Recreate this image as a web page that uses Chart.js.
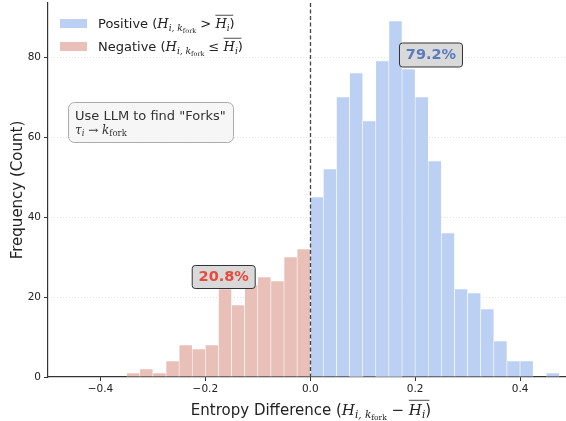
<!DOCTYPE html>
<html>
<head>
<meta charset="utf-8">
<script src="https://cdn.jsdelivr.net/npm/chart.js@4.4.1/dist/chart.umd.min.js"></script>
<style>
  html, body { margin: 0; padding: 0; background: #fff; }
  #wrap { width: 566px; height: 421px; }
</style>
</head>
<body>
<div id="wrap"><canvas id="histChart" width="566" height="421"></canvas></div>
<script>
// histogram bins (width 0.025)
var binWidth = 0.025;
var negStart = -0.35;
var negCounts = [1, 2, 1, 4, 8, 7, 8, 22, 18, 23, 25, 24, 30, 32];
var posStart = 0.0;
var posCounts = [45, 52, 70, 76, 64, 79, 89, 77, 70, 54, 36, 22, 21, 17, 9, 4, 4, 0, 1];
var xTicks = [-0.4, -0.2, 0.0, 0.2, 0.4];
var yTicks = [0, 20, 40, 60, 80];
var negLabel = "20.8%";
var posLabel = "79.2%";

var blueFill = "rgb(188,208,243)";
var redFill = "rgb(232,192,184)";
var sans = "'DejaVu Sans', sans-serif";
var serif = "'DejaVu Serif', 'Liberation Serif', serif";

function toPoints(start, counts) {
  return counts.map(function(c, i) {
    return { x: start + binWidth * (i + 0.5), y: c };
  });
}

// draws a run of text pieces (for the little math bits)
function drawRich(ctx, x, y, parts, align) {
  var total = 0;
  parts.forEach(function(p) { ctx.font = p.f; total += ctx.measureText(p.t).width; });
  var cx = align === "center" ? x - total / 2 : x;
  ctx.textBaseline = "alphabetic";
  ctx.textAlign = "left";
  parts.forEach(function(p) {
    ctx.font = p.f;
    var w = ctx.measureText(p.t).width;
    ctx.fillText(p.t, cx, y + (p.dy || 0));
    if (p.over) {
      ctx.save();
      ctx.lineWidth = 0.8;
      ctx.beginPath();
      ctx.moveTo(cx, y - p.oy);
      ctx.lineTo(cx + w + (p.ow || 0), y - p.oy);
      ctx.stroke();
      ctx.restore();
    }
    cx += w;
  });
  return total;
}

function hik(s) {
  return [
    { t: "H", f: "italic " + s + "px " + serif },
    { t: "i,", f: "italic " + (s * 0.7) + "px " + serif, dy: 3 },
    { t: " k", f: "italic " + (s * 0.7) + "px " + serif, dy: 3 },
    { t: "fork", f: (s * 0.5) + "px " + serif, dy: 5 }
  ];
}
function hbar(s) {
  return [
    { t: "H", f: "italic " + s + "px " + serif, over: true, ow: s * 0.5, oy: s * 0.98 },
    { t: "i", f: "italic " + (s * 0.7) + "px " + serif, dy: 3 }
  ];
}

function roundBox(ctx, x, y, w, h, r, fill, stroke, lw) {
  ctx.beginPath();
  ctx.roundRect(x, y, w, h, r);
  ctx.fillStyle = fill;
  ctx.fill();
  ctx.lineWidth = lw;
  ctx.strokeStyle = stroke;
  ctx.stroke();
}

function noPad(s) {
  s.paddingTop = 0; s.paddingBottom = 0; s.paddingLeft = 0; s.paddingRight = 0;
}

var extras = {
  id: "extras",
  beforeDatasetsDraw: function(chart) {
    var ctx = chart.ctx, a = chart.chartArea, ys = chart.scales.y;
    ctx.save();
    ctx.strokeStyle = "#d8d8d8";
    ctx.lineWidth = 0.8;
    ctx.setLineDash([1, 2]);
    yTicks.forEach(function(v) {
      if (v === 0) return;
      var py = Math.round(ys.getPixelForValue(v)) + 0.5;
      ctx.beginPath();
      ctx.moveTo(a.left, py);
      ctx.lineTo(a.right, py);
      ctx.stroke();
    });
    ctx.restore();
  },
  afterDatasetsDraw: function(chart) {
    var ctx = chart.ctx, a = chart.chartArea, xs = chart.scales.x, ys = chart.scales.y;
    ctx.save();
    // dashed line at zero
    var x0 = Math.round(xs.getPixelForValue(0)) + 0.5;
    ctx.strokeStyle = "#444";
    ctx.lineWidth = 1.3;
    ctx.setLineDash([4, 2.5]);
    ctx.beginPath();
    ctx.moveTo(x0, a.top);
    ctx.lineTo(x0, a.bottom);
    ctx.stroke();
    ctx.setLineDash([]);

    // percent labels
    ctx.font = "bold 14.5px " + sans;
    ctx.textAlign = "center";
    ctx.textBaseline = "middle";
    var nx = xs.getPixelForValue(-0.165), ny = ys.getPixelForValue(25);
    roundBox(ctx, nx - 31.5, ny - 11.5, 63, 23, 3, "#d9d9d9", "#333", 1);
    ctx.fillStyle = "#e8493b";
    ctx.fillText(negLabel, nx, ny + 0.5);
    var px = xs.getPixelForValue(0.2302), py = ys.getPixelForValue(80.5);
    roundBox(ctx, px - 31.5, py - 12, 63, 24, 3, "#d9d9d9", "#333", 1);
    ctx.fillStyle = "#5a7bbd";
    ctx.fillText(posLabel, px, py + 0.5);

    // legend
    ctx.fillStyle = blueFill;
    ctx.fillRect(60, 19, 27, 9);
    ctx.fillStyle = redFill;
    ctx.fillRect(60, 42, 27, 9);
    ctx.fillStyle = "#222";
    ctx.strokeStyle = "#222";
    var f13 = "13px " + sans;
    drawRich(ctx, 98, 28, [{ t: "Positive (", f: f13 }].concat(hik(13), [{ t: " > ", f: "13px " + serif }], hbar(13), [{ t: ")", f: f13 }]));
    drawRich(ctx, 98, 51, [{ t: "Negative (", f: f13 }].concat(hik(13), [{ t: " \u2264 ", f: "13px " + serif }], hbar(13), [{ t: ")", f: f13 }]));

    // annotation box
    roundBox(ctx, 68.5, 102.5, 165, 40, 6, "rgba(245,245,245,0.9)", "#aaa", 1);
    ctx.fillStyle = "#333";
    ctx.font = "13px " + sans;
    ctx.textAlign = "left";
    ctx.textBaseline = "alphabetic";
    ctx.fillText('Use LLM to find "Forks"', 75, 120);
    drawRich(ctx, 75, 134, [
      { t: "\u03c4", f: "italic 12px " + serif },
      { t: "i", f: "italic 8.5px " + serif, dy: 2 },
      { t: " \u2192 ", f: "12px " + serif },
      { t: "k", f: "italic 12px " + serif },
      { t: "fork", f: "8.5px " + serif, dy: 2 }
    ]);

    // axis titles
    ctx.fillStyle = "#222";
    ctx.strokeStyle = "#222";
    drawRich(ctx, 311, 415, [{ t: "Entropy Difference (", f: "15px " + sans }].concat(hik(15), [{ t: " \u2212 ", f: "15px " + serif }], hbar(15), [{ t: ")", f: "15px " + sans }]), "center");
    ctx.translate(22, (a.top + a.bottom) / 2);
    ctx.rotate(-Math.PI / 2);
    ctx.font = "15px " + sans;
    ctx.textAlign = "center";
    ctx.fillText("Frequency (Count)", 0, 0);
    ctx.restore();
  }
};

new Chart(document.getElementById("histChart"), {
  type: "bar",
  data: {
    datasets: [{
      label: "Negative",
      data: toPoints(negStart, negCounts),
      backgroundColor: redFill,
      borderColor: "rgba(255,255,255,0.85)",
      borderWidth: { left: 0.6, right: 0.6, top: 0.6 },
      borderSkipped: "bottom",
      grouped: false,
      barPercentage: 1,
      categoryPercentage: 1
    }, {
      label: "Positive",
      data: toPoints(posStart, posCounts),
      backgroundColor: blueFill,
      borderColor: "rgba(255,255,255,0.85)",
      borderWidth: { left: 0.6, right: 0.6, top: 0.6 },
      borderSkipped: "bottom",
      grouped: false,
      barPercentage: 1,
      categoryPercentage: 1
    }]
  },
  options: {
    responsive: false,
    animation: false,
    layout: { padding: { top: 3, right: 0, left: 0, bottom: 0 } },
    plugins: { legend: { display: false }, tooltip: { enabled: false } },
    scales: {
      x: {
        type: "linear",
        offset: false,
        min: -0.5,
        max: 0.4876,
        afterBuildTicks: function(s) { s.ticks = xTicks.map(function(v) { return { value: v }; }); },
        afterFit: function(s) { s.height = 44; noPad(s); },
        border: { color: "#333", width: 1.2 },
        grid: { drawOnChartArea: false, drawTicks: true, tickLength: 4, color: "#333", offset: false },
        ticks: {
          autoSkip: false,
          maxRotation: 0,
          padding: 2,
          color: "#222",
          font: { family: "DejaVu Sans", size: 10.5 },
          callback: function(v) { return v === 0 ? "0.0" : (v < 0 ? "\u2212" : "") + Math.abs(v).toFixed(1); }
        }
      },
      y: {
        min: 0,
        max: 93.5,
        afterBuildTicks: function(s) { s.ticks = yTicks.map(function(v) { return { value: v }; }); },
        afterFit: function(s) { s.width = 48; noPad(s); },
        border: { color: "#333", width: 1.2 },
        grid: { drawOnChartArea: false, drawTicks: true, tickLength: 4, color: "#333" },
        ticks: {
          padding: 3,
          color: "#222",
          font: { family: "DejaVu Sans", size: 10.5 }
        }
      }
    }
  },
  plugins: [extras]
});
</script>
</body>
</html>
